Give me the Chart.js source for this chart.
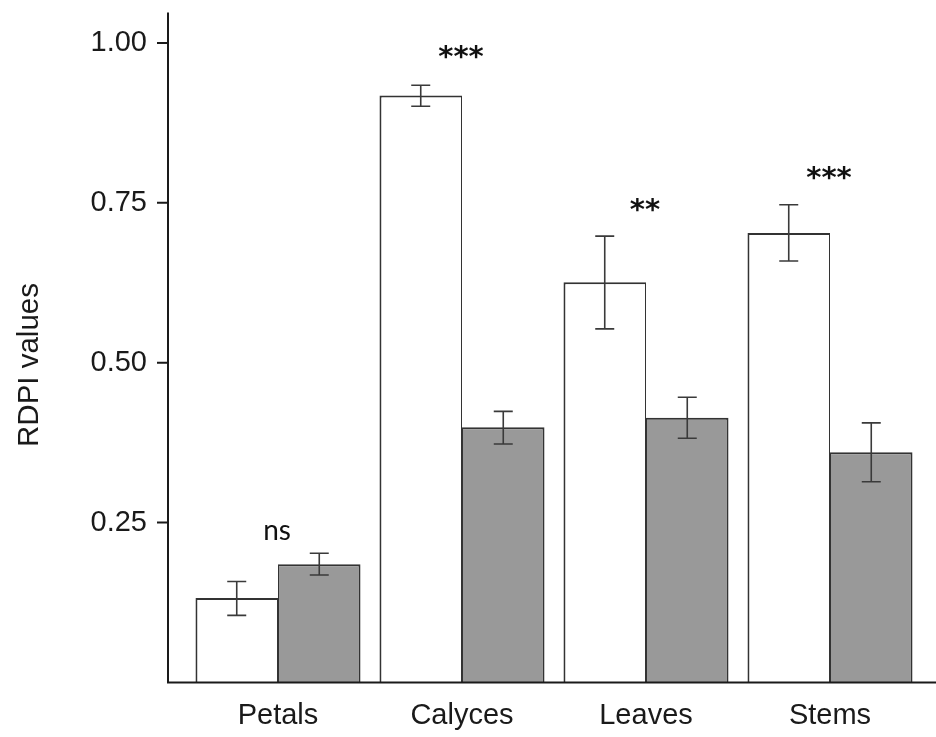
<!DOCTYPE html>
<html>
<head>
<meta charset="utf-8">
<script src="https://cdn.jsdelivr.net/npm/chart.js@4"></script>
<style>
html, body { margin: 0; padding: 0; background: #fff; }
canvas { display: block; }
</style>
</head>
<body>
<canvas id="chart" width="936" height="737"></canvas>
<script>
const categories = ['Petals', 'Calyces', 'Leaves', 'Stems'];
const whiteValues = [0.132, 0.918, 0.626, 0.703];
const whiteLow = [0.105, 0.901, 0.553, 0.659];
const whiteHigh = [0.158, 0.934, 0.698, 0.747];
const grayValues = [0.185, 0.399, 0.414, 0.360];
const grayLow = [0.168, 0.373, 0.382, 0.314];
const grayHigh = [0.202, 0.424, 0.446, 0.406];
const yTicks = [0.25, 0.5, 0.75, 1.0];
const marks = ['ns', '***', '**', '***'];
const markHeights = [0.235, 0.986, 0.747, 0.797];

const axisFont = 'Liberation Sans, Arial, sans-serif';
const ink = '#1a1a1a';

// error bars drawn over the bars, at bar centres
const errorBars = {
    id: 'errorBars',
    afterDatasetsDraw(chart) {
        const ctx = chart.ctx;
        const y = chart.scales.y;
        const sets = [[whiteLow, whiteHigh], [grayLow, grayHigh]];
        ctx.save();
        ctx.strokeStyle = '#3a3a3a';
        ctx.lineWidth = 1.6;
        sets.forEach(([lo, hi], d) => {
            chart.getDatasetMeta(d).data.forEach((bar, i) => {
                const x = bar.x;
                const y1 = y.getPixelForValue(lo[i]);
                const y2 = y.getPixelForValue(hi[i]);
                ctx.beginPath();
                ctx.moveTo(x, y1); ctx.lineTo(x, y2);
                ctx.moveTo(x - 9.5, y1); ctx.lineTo(x + 9.5, y1);
                ctx.moveTo(x - 9.5, y2); ctx.lineTo(x + 9.5, y2);
                ctx.stroke();
            });
        });
        ctx.restore();
    }
};

// detached y axis (base R look), x axis line, y title and significance marks
const axes = {
    id: 'axes',
    afterDraw(chart) {
        const ctx = chart.ctx;
        const area = chart.chartArea;
        const y = chart.scales.y;
        const x = chart.scales.x;
        const ax = area.left - 18;
        const base = y.getPixelForValue(0);
        ctx.save();
        ctx.strokeStyle = ink;
        ctx.lineWidth = 2;
        ctx.beginPath();
        ctx.moveTo(ax, area.top + 1.5);
        ctx.lineTo(ax, base);
        ctx.moveTo(ax - 1, base);
        ctx.lineTo(chart.width, base);
        yTicks.forEach(v => {
            const py = y.getPixelForValue(v);
            ctx.moveTo(ax - 11, py);
            ctx.lineTo(ax, py);
        });
        ctx.stroke();

        ctx.fillStyle = ink;
        ctx.font = '29.5px ' + axisFont;
        ctx.textAlign = 'center';
        ctx.textBaseline = 'middle';
        ctx.translate(30, 365);
        ctx.rotate(-Math.PI / 2);
        ctx.fillText('RDPI values', 0, 0);
        ctx.restore();

        ctx.save();
        ctx.fillStyle = '#111';
        ctx.textAlign = 'center';
        ctx.textBaseline = 'alphabetic';
        marks.forEach((m, i) => {
            ctx.font = m === 'ns' ? '28px Lato, sans-serif' : 'bold 29px DejaVu Sans, sans-serif';
            const tm = ctx.measureText(m);
            const cy = y.getPixelForValue(markHeights[i]);
            ctx.fillText(m, x.getPixelForValue(i) - 1, cy + (tm.actualBoundingBoxAscent - tm.actualBoundingBoxDescent) / 2);
        });
        ctx.restore();
    }
};

new Chart(document.getElementById('chart'), {
    type: 'bar',
    data: {
        labels: categories,
        datasets: [{
            data: whiteValues,
            backgroundColor: '#ffffff',
            borderColor: '#333',
            borderWidth: { top: 2, left: 2, right: 1, bottom: 0 }
        }, {
            data: grayValues,
            backgroundColor: '#999999',
            borderColor: '#333',
            borderWidth: { top: 2, left: 1, right: 2, bottom: 0 }
        }]
    },
    options: {
        responsive: false,
        animation: false,
        events: [],
        layout: { padding: { top: 11, right: 14, left: 0, bottom: 0 } },
        datasets: { bar: { categoryPercentage: 0.897, barPercentage: 1.0 } },
        plugins: {
            legend: { display: false },
            tooltip: { enabled: false }
        },
        scales: {
            x: {
                grid: { display: false, drawTicks: false },
                border: { display: false },
                ticks: { color: ink, padding: 16, font: { family: axisFont, size: 29 } },
                afterFit(scale) {
                    scale.height = 54.5;
                    scale.paddingLeft = 0;
                    scale.paddingRight = 0;
                }
            },
            y: {
                min: 0,
                max: 1.05,
                grid: { display: false, drawTicks: false },
                border: { display: false },
                afterBuildTicks(scale) { scale.ticks = yTicks.map(v => ({ value: v })); },
                afterFit(scale) {
                    scale.width = 186;
                    scale.paddingTop = 0;
                    scale.paddingBottom = 0;
                },
                ticks: {
                    color: ink,
                    padding: 39,
                    font: { family: axisFont, size: 29 },
                    callback: v => v.toFixed(2)
                }
            }
        }
    },
    plugins: [errorBars, axes]
});
</script>
</body>
</html>
